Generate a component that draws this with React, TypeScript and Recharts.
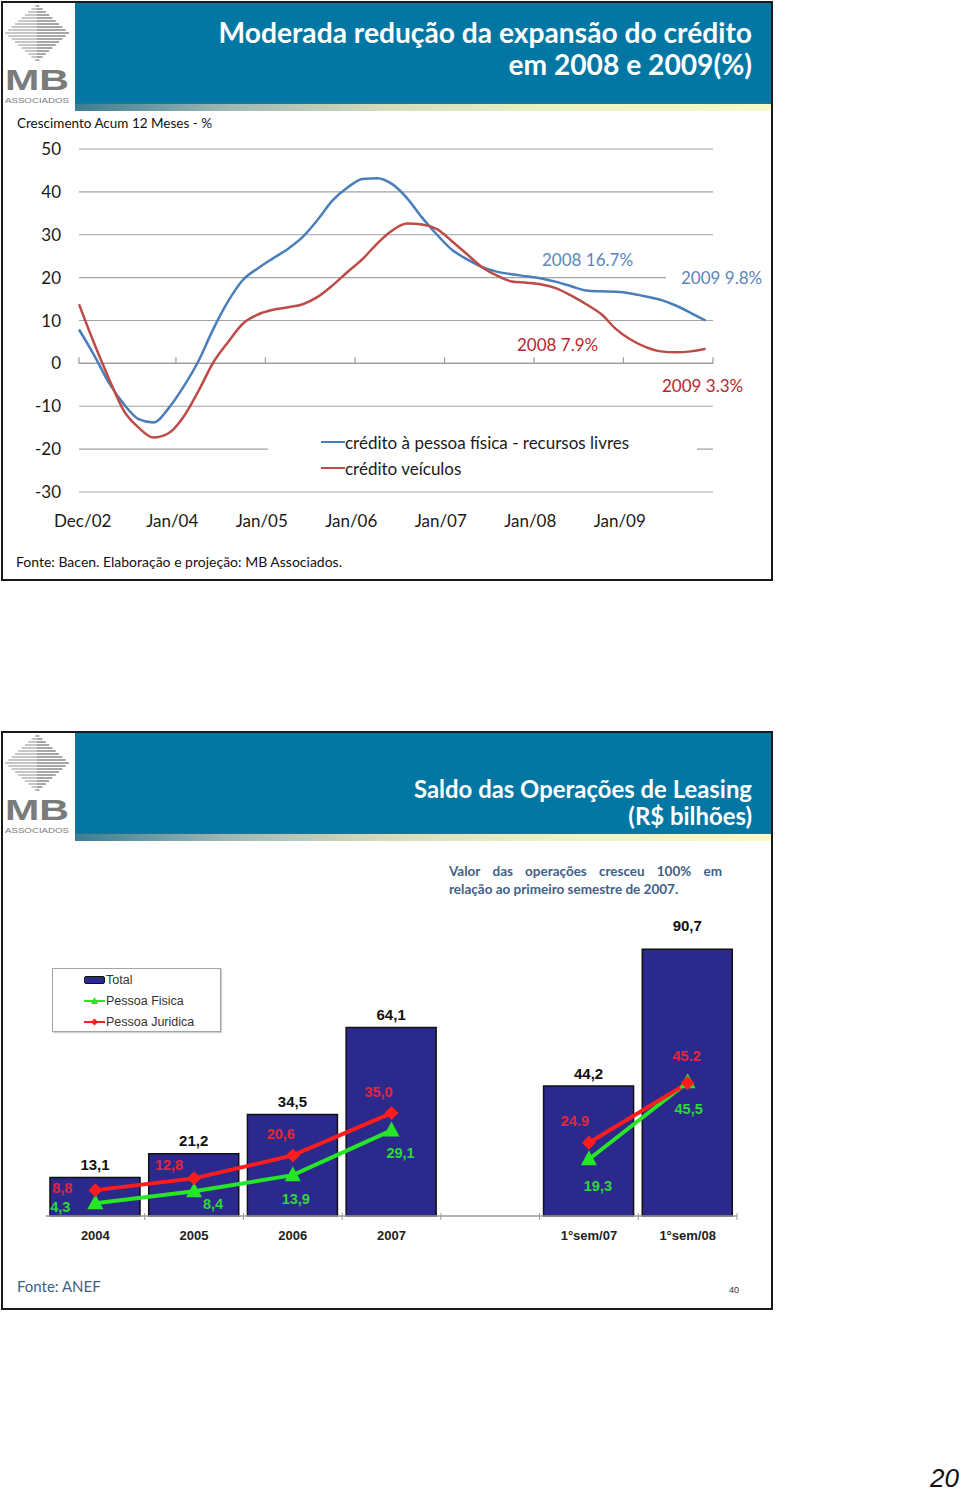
import React from 'react';
import {
  LineChart,
  Line,
  XAxis,
  YAxis,
  CartesianGrid,
  ReferenceLine,
  Legend,
  ComposedChart,
  Bar,
  LabelList,
} from 'recharts';

// ---- chart 1: crescimento acumulado 12 meses (%) ----
// month index from Dec/02 (0), every two months
const months = [
  0, 2, 4, 6, 8, 10, 12, 14, 16, 18, 20, 22, 24, 26, 28, 30, 32, 34, 36, 38, 40, 42,
  44, 46, 48, 50, 52, 54, 56, 58, 60, 62, 64, 66, 68, 70, 72, 74, 76, 78, 80, 82, 84,
];
const creditoPessoaFisica = [
  7.9, 2.0, -4.5, -9.5, -13.0, -13.8, -10.5, -5.5, 0.5, 8.0, 14.5, 19.5, 22.2, 24.5, 26.7,
  29.5, 33.5, 38.0, 41.0, 43.0, 43.2, 41.8, 38.5, 34.0, 30.0, 26.5, 24.3, 22.5, 21.4, 20.8,
  20.3, 19.8, 19.0, 18.0, 17.0, 16.8, 16.7, 16.3, 15.6, 14.8, 13.5, 11.8, 10.0,
];
const creditoVeiculos = [
  13.8, 4.8, -3.5, -11.0, -15.0, -17.3, -16.3, -12.5, -6.5, 0.2, 5.0, 9.3, 11.4, 12.5, 13.1,
  13.8, 15.5, 18.2, 21.3, 24.3, 28.0, 31.0, 32.6, 32.4, 31.3, 28.5, 25.5, 22.5, 20.5, 19.1,
  18.8, 18.4, 17.5, 15.8, 13.8, 11.5, 8.0, 5.5, 3.8, 2.8, 2.6, 2.8, 3.4,
];
const monthLabelTicks = [0.5, 12.5, 24.5, 36.5, 48.5, 60.5, 72.5];
const monthLabels = ['Dec/02', 'Jan/04', 'Jan/05', 'Jan/06', 'Jan/07', 'Jan/08', 'Jan/09'];
const monthTickMarks = [0, 13, 25, 37, 49, 61, 73, 85];
const growthTicks = [-30, -20, -10, 0, 10, 20, 30, 40, 50];

// ---- chart 2: saldo das operações de leasing (R$ bilhões) ----
const leasingCategories = ['2004', '2005', '2006', '2007', ' ', '1°sem/07', '1°sem/08'];
const leasingTotal = [13.1, 21.2, 34.5, 64.1, null, 44.2, 90.7];
const leasingFisica = [4.3, 8.4, 13.9, 29.1, null, 19.3, 45.5];
const leasingJuridica = [8.8, 12.8, 20.6, 35.0, null, 24.9, 45.2];
const totalLabels = ['13,1', '21,2', '34,5', '64,1', '', '44,2', '90,7'];
const fisicaLabels = ['4,3', '8,4', '13,9', '29,1', '', '19,3', '45,5'];
const juridicaLabels = ['8,8', '12,8', '20,6', '35,0', '', '24.9', '45.2'];

// label placement relative to each marker / bar top (px)
const totalLabelRaise = [13, 13, 13, 13, 13, 13, 24];
const fisicaLabelOffsets = [[-35, 4], [19, 13], [3, 24], [9, 23], [0, 0], [9, 27], [1, 27]];
const juridicaLabelOffsets = [[-33, -2], [-25, -13], [-12, -21], [-13, -21], [0, 0], [-14, -22], [-1, -27]];

const lineLegendOrder = ['pf', 'veic'];
const leasingLegendOrder = ['total', 'fisica', 'juridica'];

const BLUE = '#4a7ebb';
const RED = '#be4b48';
const NAVY = '#2b2a8c';
const GREEN = '#26e626';
const LRED = '#ff1c1c';
const HEADER = '#0377a3';
const CAL = 'Lato, "Open Sans", sans-serif';
const ARIAL = '"Liberation Sans", Arial, sans-serif';

function Logo({ left, top }: { left: number; top: number }) {
  const stripes = [0, 1, 2, 3, 4, 5, 6, 7, 8, 9, 10, 11, 12, 13, 14, 15, 16, 17, 18];
  return (
    <svg style={{ position: 'absolute', left, top }} width={70} height={100}>
      {stripes.map((i) => {
        const y = 1 + i * 3;
        const w = 64 * (1 - Math.abs(y - 28) / 29);
        return (
          <g key={i}>
            <line x1={33 - w / 2} x2={33} y1={y} y2={y} stroke="#b4b4b4" strokeWidth={1.5} />
            <line x1={33} x2={33 + w / 2} y1={y} y2={y} stroke="#8a8a8a" strokeWidth={1.5} />
          </g>
        );
      })}
      <text x={1} y={85} fontFamily={ARIAL} fontWeight="bold" fontSize={30} fill="#7b7b7b" textLength={64} lengthAdjust="spacingAndGlyphs">
        MB
      </text>
      <text x={1} y={98} fontFamily={ARIAL} fontSize={6.5} fill="#7b7b7b" textLength={64} lengthAdjust="spacingAndGlyphs">
        ASSOCIADOS
      </text>
    </svg>
  );
}

function Header({ top, lines, fontSize, textTop, lineHeight }: { top: number; lines: string[]; fontSize: number; textTop: number; lineHeight: number }) {
  return (
    <>
      <Logo left={4} top={top + 2} />
      <div style={{ position: 'absolute', left: 75, top, width: 696, height: 100, background: HEADER }}>
        <div
          style={{
            position: 'absolute',
            right: 19,
            top: textTop,
            textAlign: 'right',
            color: '#fff',
            fontFamily: CAL,
            fontWeight: 'bold',
            fontSize,
            lineHeight: `${lineHeight}px`,
            whiteSpace: 'nowrap',
          }}
        >
          {lines.map((l) => (
            <div key={l}>{l}</div>
          ))}
        </div>
      </div>
      <div
        style={{
          position: 'absolute',
          left: 75,
          top: top + 100,
          width: 696,
          height: 7,
          borderTop: '1px solid #2d6f86',
          background: 'linear-gradient(to right, #3a7d93 0%, #9fb8b4 22%, #d5dcbb 45%, #eef3c6 70%, #f6f9c8 100%)',
        }}
      />
    </>
  );
}

function LineLegend(props: any) {
  const items = [...props.payload].sort(
    (a: any, b: any) => lineLegendOrder.indexOf(a.dataKey) - lineLegendOrder.indexOf(b.dataKey)
  );
  return (
    <div style={{ background: '#fff', padding: '1px 0 4px 53px', fontFamily: CAL, fontSize: 17, color: '#1a1a1a' }}>
      {items.map((e: any) => (
        <div key={e.value} style={{ display: 'flex', alignItems: 'center', height: 26 }}>
          <span style={{ width: 24, height: 2.5, background: e.color, display: 'inline-block' }} />
          <span>{e.value}</span>
        </div>
      ))}
    </div>
  );
}

function LeasingLegend(props: any) {
  const items = [...props.payload].sort(
    (a: any, b: any) => leasingLegendOrder.indexOf(a.dataKey) - leasingLegendOrder.indexOf(b.dataKey)
  );
  return (
    <div
      style={{
        width: 169,
        height: 64,
        boxSizing: 'border-box',
        border: '1px solid #a3a3a3',
        background: '#fff',
        boxShadow: '1px 1px 1px #d0d0d0',
        fontFamily: ARIAL,
        fontSize: 12.5,
        color: '#333',
      }}
    >
      {items.map((e: any) => (
        <div key={e.value} style={{ display: 'flex', alignItems: 'center', height: 21, paddingLeft: 31 }}>
          <svg width={21} height={10}>
            {e.dataKey === 'total' && <rect x={0.5} y={1.5} width={20} height={7} rx={1.5} fill={NAVY} stroke="#111" />}
            {e.dataKey === 'fisica' && (
              <>
                <line x1={0} x2={21} y1={5} y2={5} stroke={GREEN} strokeWidth={2} />
                <polygon points="10.5,1 7,8 14,8" fill={GREEN} />
              </>
            )}
            {e.dataKey === 'juridica' && (
              <>
                <line x1={0} x2={21} y1={5} y2={5} stroke={LRED} strokeWidth={2} />
                <polygon points="10.5,1.5 14,5 10.5,8.5 7,5" fill={LRED} />
              </>
            )}
          </svg>
          <span style={{ marginLeft: 1 }}>{e.value}</span>
        </div>
      ))}
    </div>
  );
}

function LeasingTick(props: any) {
  const { x, y, payload } = props;
  const half = payload.offset ?? 49;
  const axisY = y - 15;
  return (
    <g>
      <line x1={x + half} x2={x + half} y1={axisY - 3} y2={axisY + 4} stroke="#9a9a9a" />
      <text x={x} y={y + 9} textAnchor="middle" fontFamily={ARIAL} fontWeight="bold" fontSize={13} fill="#222">
        {payload.value}
      </text>
    </g>
  );
}

function totalLabel(p: any) {
  const { x, y, width, value } = p;
  if (!value || x == null) return null;
  const i = totalLabels.indexOf(String(value));
  const raise = totalLabelRaise[i] ?? 13;
  return (
    <text
      x={x + width / 2}
      y={y - raise}
      textAnchor="middle"
      dominantBaseline="central"
      fontFamily={ARIAL}
      fontWeight="bold"
      fontSize={15}
      fill="#111"
    >
      {value}
    </text>
  );
}

function fisicaDot(p: any) {
  const { cx, cy, index, payload } = p;
  if (cx == null || cy == null || payload.fisica == null) return <g key={`f${index}`} />;
  const [dx, dy] = fisicaLabelOffsets[index];
  return (
    <g key={`f${index}`}>
      <polygon points={`${cx},${cy - 9} ${cx - 8},${cy + 6} ${cx + 8},${cy + 6}`} fill={GREEN} />
      <text x={cx + dx} y={cy + dy} textAnchor="middle" dominantBaseline="central" fontFamily={ARIAL} fontWeight="bold" fontSize={14.5} fill="#2fd83a">
        {payload.fisicaLabel}
      </text>
    </g>
  );
}

function juridicaDot(p: any) {
  const { cx, cy, index, payload } = p;
  if (cx == null || cy == null || payload.juridica == null) return <g key={`j${index}`} />;
  const [dx, dy] = juridicaLabelOffsets[index];
  return (
    <g key={`j${index}`}>
      <polygon points={`${cx},${cy - 7} ${cx + 7},${cy} ${cx},${cy + 7} ${cx - 7},${cy}`} fill={LRED} />
      <text x={cx + dx} y={cy + dy} textAnchor="middle" dominantBaseline="central" fontFamily={ARIAL} fontWeight="bold" fontSize={14.5} fill="#e3263a">
        {payload.juridicaLabel}
      </text>
    </g>
  );
}

const note = (color: string): React.CSSProperties => ({
  position: 'absolute',
  fontFamily: CAL,
  fontSize: 17,
  lineHeight: '20px',
  color,
  whiteSpace: 'nowrap',
});

export default function App() {
  const lineRows = months.map((m, i) => ({ m, pf: creditoPessoaFisica[i], veic: creditoVeiculos[i] }));
  const leasingRows = leasingCategories.map((name, i) => ({
    name,
    total: leasingTotal[i],
    fisica: leasingFisica[i],
    juridica: leasingJuridica[i],
    totalLabel: totalLabels[i],
    fisicaLabel: fisicaLabels[i],
    juridicaLabel: juridicaLabels[i],
  }));

  return (
    <div style={{ position: 'absolute', left: 0, top: 0, width: 960, height: 1492, background: '#fff', overflow: 'hidden' }}>
      {/* panel 1 */}
      <div style={{ position: 'absolute', left: 1, top: 1, width: 772, height: 580, border: '2px solid #1a1a1a', boxSizing: 'border-box' }} />
      <Header
        top={3}
        lines={['Moderada redução da expansão do crédito', 'em 2008 e 2009(%)']}
        fontSize={28.2}
        textTop={13}
        lineHeight={32}
      />
      <div style={{ position: 'absolute', left: 17, top: 115, fontFamily: CAL, fontSize: 13.5, color: '#111' }}>
        Crescimento Acum 12 Meses - %
      </div>

      <div style={{ position: 'absolute', left: 0, top: 130 }}>
        <LineChart width={780} height={410} data={lineRows} margin={{ top: 19, right: 67, bottom: 18, left: 19 }}>
          <CartesianGrid vertical={false} stroke="#a3a3a3" strokeWidth={1.2} />
          <XAxis
            dataKey="m"
            type="number"
            domain={[0, 85]}
            ticks={monthLabelTicks}
            tickFormatter={(v: number) => monthLabels[monthLabelTicks.indexOf(v)] ?? ''}
            axisLine={false}
            tickLine={false}
            tickSize={0}
            tickMargin={23}
            height={30}
            tick={{ fontFamily: CAL, fontSize: 17, fill: '#1a1a1a' }}
          />
          <YAxis
            type="number"
            domain={[-30, 50]}
            ticks={growthTicks}
            axisLine={false}
            tickLine={false}
            tickSize={0}
            tickMargin={18}
            width={60}
            tick={{ fontFamily: CAL, fontSize: 17, fill: '#1a1a1a' }}
          />
          <ReferenceLine y={0} stroke="#9a9a9a" strokeWidth={1.3} />
          {monthTickMarks.map((t) => (
            <ReferenceLine
              key={t}
              segment={[
                { x: t, y: 0 },
                { x: t, y: 1.4 },
              ]}
              stroke="#9a9a9a"
              strokeWidth={1.2}
            />
          ))}
          <Legend
            layout="vertical"
            align="center"
            verticalAlign="middle"
            wrapperStyle={{ left: 268, top: 298, width: 429 }}
            content={LineLegend}
          />
          <Line type="monotone" dataKey="pf" name="crédito à pessoa física - recursos livres" stroke={BLUE} strokeWidth={2.5} dot={false} isAnimationActive={false} />
          <Line type="monotone" dataKey="veic" name="crédito veículos" stroke={RED} strokeWidth={2.5} dot={false} isAnimationActive={false} />
        </LineChart>
      </div>

      <div style={{ ...note('#5b86b9'), left: 542, top: 250 }}>2008 16.7%</div>
      <div style={{ ...note('#5b86b9'), left: 666, top: 268, paddingLeft: 15, paddingRight: 4, background: '#fff' }}>2009 9.8%</div>
      <div style={{ ...note('#b3282b'), left: 517, top: 335 }}>2008 7.9%</div>
      <div style={{ ...note('#b3282b'), left: 662, top: 376 }}>2009 3.3%</div>

      <div style={{ position: 'absolute', left: 16, top: 553, fontFamily: CAL, fontSize: 14, color: '#111' }}>
        Fonte: Bacen. Elaboração e projeção: MB Associados.
      </div>

      {/* panel 2 */}
      <div style={{ position: 'absolute', left: 1, top: 731, width: 772, height: 579, border: '2px solid #1a1a1a', boxSizing: 'border-box' }} />
      <Header
        top={733}
        lines={['Saldo das Operações de Leasing', '(R$ bilhões)']}
        fontSize={23.9}
        textTop={42}
        lineHeight={27}
      />
      <div
        style={{
          position: 'absolute',
          left: 449,
          top: 862,
          width: 273,
          fontFamily: CAL,
          fontWeight: 'bold',
          fontSize: 13.5,
          lineHeight: '18px',
          color: '#3e5f8a',
          whiteSpace: 'nowrap',
        }}
      >
        <div style={{ display: 'flex', justifyContent: 'space-between' }}>
          {['Valor', 'das', 'operações', 'cresceu', '100%', 'em'].map((w) => (
            <span key={w}>{w}</span>
          ))}
        </div>
        <div>relação ao primeiro semestre de 2007.</div>
      </div>

      <div style={{ position: 'absolute', left: 0, top: 900 }}>
        <ComposedChart width={780} height={360} data={leasingRows} margin={{ top: 22, right: 43, bottom: 14, left: 46 }}>
          <XAxis
            dataKey="name"
            axisLine={{ stroke: '#9a9a9a', strokeWidth: 1.5 }}
            tickLine={false}
            tickSize={0}
            tickMargin={15}
            height={30}
            interval={0}
            tick={LeasingTick}
          />
          <YAxis hide domain={[0, 100]} />
          <Legend
            layout="vertical"
            align="center"
            verticalAlign="middle"
            wrapperStyle={{ left: 52, top: 68, width: 169 }}
            content={LeasingLegend}
          />
          <Bar dataKey="total" name="Total" fill={NAVY} stroke="#111" strokeWidth={1.5} barSize={90} isAnimationActive={false}>
            <LabelList dataKey="totalLabel" content={totalLabel} />
          </Bar>
          <Line type="linear" dataKey="fisica" name="Pessoa Fisica" stroke={GREEN} strokeWidth={4} dot={fisicaDot} activeDot={false} isAnimationActive={false} />
          <Line type="linear" dataKey="juridica" name="Pessoa Juridica" stroke={LRED} strokeWidth={4} dot={juridicaDot} activeDot={false} isAnimationActive={false} />
        </ComposedChart>
      </div>

      <div style={{ position: 'absolute', left: 17, top: 1277, fontFamily: CAL, fontSize: 15, color: '#3e5f8a' }}>Fonte: ANEF</div>
      <div style={{ position: 'absolute', left: 729, top: 1285, fontFamily: ARIAL, fontSize: 9, color: '#333' }}>40</div>

      <div style={{ position: 'absolute', left: 930, top: 1463, fontFamily: ARIAL, fontStyle: 'italic', fontSize: 26, color: '#111', paddingRight: 4 }}>20</div>
    </div>
  );
}
